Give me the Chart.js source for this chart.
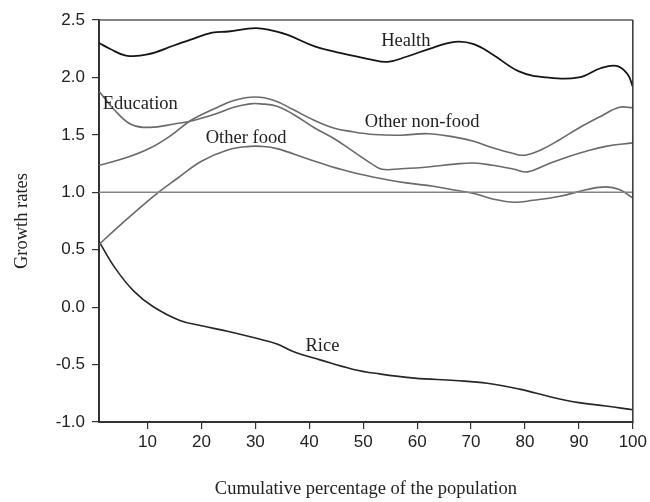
<!DOCTYPE html>
<html>
<head>
<meta charset="utf-8">
<script src="https://cdn.jsdelivr.net/npm/chart.js@4.4.1/dist/chart.umd.min.js"></script>
<style>
  html, body { margin: 0; padding: 0; background: #ffffff; }
  #wrap { width: 650px; height: 502px; position: relative; }
</style>
</head>
<body>
<div id="wrap"><canvas id="chart" width="650" height="502"></canvas></div>
<script>
// Growth rates along the cumulative percentage of the population
const xTicks = [10, 20, 30, 40, 50, 60, 70, 80, 90, 100];
const yTicks = [-1.0, -0.5, 0.0, 0.5, 1.0, 1.5, 2.0, 2.5];

const healthX = [1, 3, 6, 10, 15, 18, 22, 25, 30, 33, 36, 41, 45, 48, 51, 54.5, 58, 63, 67, 70.5, 74, 79, 84, 90, 94, 97, 99, 100];
const healthY = [2.30, 2.25, 2.19, 2.20, 2.28, 2.33, 2.39, 2.40, 2.43, 2.41, 2.37, 2.27, 2.22, 2.19, 2.16, 2.135, 2.18, 2.26, 2.31, 2.29, 2.20, 2.05, 2.00, 2.00, 2.08, 2.10, 2.03, 1.92];

const educationX = [1, 4, 7, 10.5, 15, 18.5, 22.5, 26, 29, 31, 34, 37, 41, 44.5, 48, 51.5, 53.5, 57, 62, 67, 70.5, 74, 78, 80.5, 84, 88, 91.5, 95, 100];
const educationY = [1.88, 1.71, 1.59, 1.565, 1.595, 1.625, 1.68, 1.74, 1.77, 1.77, 1.75, 1.68, 1.56, 1.47, 1.36, 1.25, 1.20, 1.205, 1.22, 1.245, 1.255, 1.235, 1.20, 1.178, 1.24, 1.31, 1.36, 1.40, 1.43];

const nonFoodX = [1, 6, 10.5, 14.5, 18, 22.5, 26, 30, 33.5, 37, 41, 44.5, 48, 52, 57, 62, 67, 70.5, 74, 78, 80, 83, 86.5, 90, 94, 97.5, 100];
const nonFoodY = [1.235, 1.30, 1.385, 1.50, 1.625, 1.73, 1.80, 1.83, 1.80, 1.72, 1.625, 1.56, 1.527, 1.503, 1.497, 1.51, 1.48, 1.445, 1.387, 1.335, 1.323, 1.37, 1.46, 1.56, 1.66, 1.74, 1.736];

const otherFoodX = [1, 4, 7.5, 11.5, 15.5, 20, 25, 29, 31, 34, 39.5, 46, 52, 58, 63, 67.5, 70.5, 74, 78, 81.5, 86.5, 91.5, 95, 97.5, 100];
const otherFoodY = [0.545, 0.675, 0.82, 0.98, 1.12, 1.27, 1.37, 1.40, 1.40, 1.38, 1.295, 1.198, 1.131, 1.082, 1.052, 1.015, 0.99, 0.942, 0.913, 0.93, 0.965, 1.024, 1.047, 1.024, 0.951];

const riceX = [1, 4, 7.5, 11, 16, 20, 25, 30, 34, 37, 42, 48, 53, 59.5, 67, 73, 79, 85, 90, 95, 100];
const riceY = [0.573, 0.34, 0.137, 0.006, -0.116, -0.162, -0.212, -0.269, -0.32, -0.386, -0.459, -0.54, -0.581, -0.618, -0.639, -0.662, -0.714, -0.784, -0.831, -0.86, -0.894];

const refX = [1, 100];
const refY = [1.0, 1.0];

// Curve labels: text, anchor (x), baseline (y)
const seriesLabels = [
  { text: 'Health',          x: 57.9, y: 2.273,  align: 'center' },
  { text: 'Education',       x: 1.7,  y: 1.721,  align: 'left' },
  { text: 'Other food',      x: 20.8, y: 1.431,  align: 'left' },
  { text: 'Other non-food',  x: 50.3, y: 1.567,  align: 'left' },
  { text: 'Rice',            x: 39.3, y: -0.378, align: 'left' }
];

const zip = (xs, ys) => xs.map((x, i) => ({ x: x, y: ys[i] }));

const SERIF = '"Liberation Serif", "Times New Roman", serif';
const SANS = '"Liberation Sans", Arial, sans-serif';

function line(label, xs, ys, color, width) {
  return {
    label: label,
    data: zip(xs, ys),
    borderColor: color,
    borderWidth: width,
    pointRadius: 0,
    fill: false,
    tension: 0.4
  };
}

const frameAndLabels = {
  id: 'frameAndLabels',
  afterDatasetsDraw(chart) {
    const { ctx, chartArea: a, scales } = chart;
    ctx.save();
    // top and right edges of the plot box
    ctx.lineWidth = 1.5;
    ctx.strokeStyle = '#5a5a5a';
    ctx.beginPath();
    ctx.moveTo(a.left, a.top);
    ctx.lineTo(a.right, a.top);
    ctx.stroke();
    ctx.strokeStyle = '#333333';
    ctx.beginPath();
    ctx.moveTo(a.right, a.top);
    ctx.lineTo(a.right, a.bottom + 1);
    ctx.stroke();
    // curve names
    ctx.fillStyle = '#222222';
    ctx.font = '18.5px ' + SERIF;
    ctx.textBaseline = 'alphabetic';
    seriesLabels.forEach(l => {
      ctx.textAlign = l.align;
      ctx.fillText(l.text, scales.x.getPixelForValue(l.x), scales.y.getPixelForValue(l.y));
    });
    ctx.restore();
  }
};

new Chart(document.getElementById('chart'), {
  type: 'line',
  data: {
    datasets: [
      line('Reference', refX, refY, '#858585', 1.5),
      line('Health', healthX, healthY, '#151515', 1.8),
      line('Education', educationX, educationY, '#6a6a6a', 1.6),
      line('Other non-food', nonFoodX, nonFoodY, '#6a6a6a', 1.6),
      line('Other food', otherFoodX, otherFoodY, '#6a6a6a', 1.6),
      line('Rice', riceX, riceY, '#262626', 1.6)
    ]
  },
  options: {
    responsive: false,
    animation: false,
    layout: { padding: { top: 20, right: 15, left: 0, bottom: 0 } },
    plugins: { legend: { display: false }, tooltip: { enabled: false } },
    scales: {
      x: {
        type: 'linear',
        min: 1,
        max: 100,
        afterBuildTicks: s => { s.ticks = xTicks.map(v => ({ value: v })); },
        afterFit: s => { s.height = 80; },
        border: { display: true, color: '#333333', width: 2 },
        grid: { drawOnChartArea: false, drawTicks: true, tickLength: 7, color: '#333333', lineWidth: 1.2 },
        ticks: { color: '#222222', font: { family: SANS, size: 17 }, padding: 3, maxRotation: 0 },
        title: {
          display: true,
          text: 'Cumulative percentage of the population',
          color: '#222222',
          font: { family: SERIF, size: 18.5 },
          padding: { top: 0, bottom: 2 }
        }
      },
      y: {
        type: 'linear',
        min: -1,
        max: 2.5,
        afterBuildTicks: s => { s.ticks = yTicks.map(v => ({ value: v })); },
        afterFit: s => { s.width = 99; },
        border: { display: true, color: '#333333', width: 2 },
        grid: { drawOnChartArea: false, drawTicks: true, tickLength: 7, color: '#333333', lineWidth: 1.2 },
        ticks: { color: '#222222', font: { family: SANS, size: 17 }, padding: 7, callback: v => v.toFixed(1) },
        title: {
          display: true,
          text: 'Growth rates',
          color: '#222222',
          font: { family: SERIF, size: 18.5 },
          padding: { top: 11, bottom: 0 }
        }
      }
    }
  },
  plugins: [frameAndLabels]
});
</script>
</body>
</html>
